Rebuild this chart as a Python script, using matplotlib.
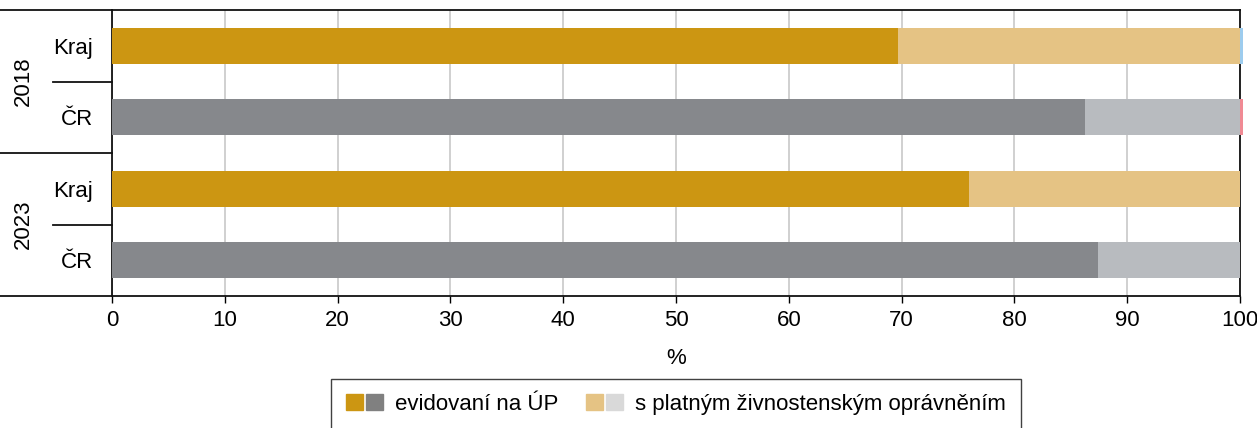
import matplotlib
matplotlib.use("Agg")
import matplotlib.pyplot as plt
import matplotlib.transforms as mtransforms
from matplotlib.patches import Patch
from matplotlib.legend_handler import HandlerTuple

plt.rcParams['font.family'] = ['Liberation Sans', 'DejaVu Sans']

# Data
years = ["2018", "2023"]
categories = ["Kraj", "ČR", "Kraj", "ČR"]
evidovani = [69.7, 86.3, 76.0, 87.4]
zivnost = [30.3, 13.7, 24.0, 12.6]
ostatni = [0.25, 0.3, 0.0, 0.0]
xticks = [0, 10, 20, 30, 40, 50, 60, 70, 80, 90, 100]

dark_cols = ["#CC9612", "#86888C", "#CC9612", "#86888C"]
light_cols = ["#E5C384", "#B8BBBF", "#E5C384", "#B8BBBF"]
other_cols = ["#9DCCEE", "#F08A94", "#9DCCEE", "#F08A94"]

FS = 16
W, H = 1257, 428
fig = plt.figure(figsize=(W / 100, H / 100), dpi=100)
ax = fig.add_axes([112 / W, 1 - 296 / H, (1240 - 112) / W, (296 - 10) / H])

ypos = list(range(len(categories)))
ax.barh(ypos, evidovani, height=0.5, color=dark_cols, zorder=3)
ax.barh(ypos, zivnost, left=evidovani, height=0.5, color=light_cols, zorder=3)
lefts = [a + b for a, b in zip(evidovani, zivnost)]
bars = ax.barh(ypos, ostatni, left=lefts, height=0.5, color=other_cols, zorder=3)
for b in bars:
    b.set_clip_on(False)

ax.set_xlim(0, 100)
ax.set_ylim(3.5, -0.5)
ax.set_xticks(xticks)
ax.set_xticklabels([str(v) for v in xticks], fontsize=FS)
ax.set_yticks(ypos)
ax.set_yticklabels(categories, fontsize=FS)
ax.tick_params(axis='y', length=0, pad=13.5)
ax.tick_params(axis='x', length=5, width=1, direction='out', pad=5, color='black')
ax.xaxis.grid(True, color='#C8C8C8', linewidth=1.2, zorder=0)
ax.set_axisbelow(True)
for s in ax.spines.values():
    s.set_color('#111111')
    s.set_linewidth(1.3)
ax.set_xlabel('%', fontsize=FS, labelpad=12)

# Group separators and year labels
tr = mtransforms.blended_transform_factory(fig.transFigure, ax.transData)
for y in [-0.5, 1.5, 3.5]:
    ax.plot([0, 112 / W], [y, y], color='#111111', lw=1.3, transform=tr, clip_on=False)
for y in [0.5, 2.5]:
    ax.plot([53 / W, 112 / W], [y, y], color='#111111', lw=1.3, transform=tr, clip_on=False)
for i, yr in enumerate(years):
    ax.text(23 / W, 2 * i + 0.5, yr, rotation=90, ha='center', va='center',
            fontsize=FS, transform=tr)

# Legend
h1 = (Patch(color="#CC9612"), Patch(color="#808080"))
h2 = (Patch(color="#E5C384"), Patch(color="#D9D9D9"))
leg = fig.legend([h1, h2], ["evidovaní na ÚP", "s platným živnostenským oprávněním"],
                 handler_map={tuple: HandlerTuple(ndivide=None, pad=0.135)},
                 loc='upper center', bbox_to_anchor=(676 / W, 1 - 368 / H),
                 ncol=2, fontsize=FS, frameon=True, fancybox=False,
                 edgecolor='#111111', handlelength=1.66, handleheight=0.77,
                 columnspacing=1.26, borderpad=0.66, handletextpad=0.54)
leg.get_frame().set_linewidth(1.0)

fig.savefig("out.png", dpi=100)
